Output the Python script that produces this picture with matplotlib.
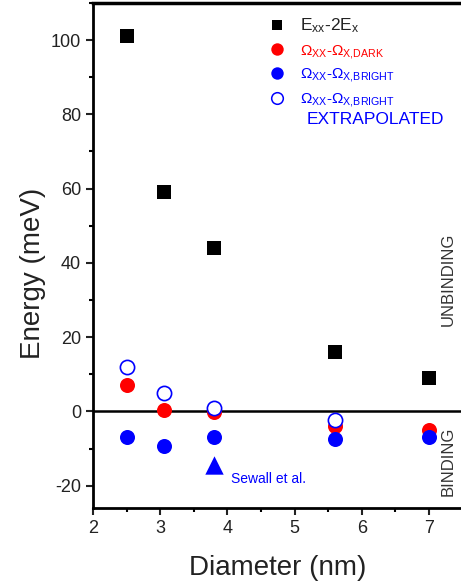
import numpy as np
import matplotlib
matplotlib.use("Agg")
import matplotlib.pyplot as plt
from matplotlib.ticker import MultipleLocator

plt.rcParams['font.family'] = ['Liberation Sans', 'DejaVu Sans']
plt.rcParams['mathtext.fontset'] = 'custom'
plt.rcParams['mathtext.rm'] = 'Liberation Sans'
plt.rcParams['mathtext.it'] = 'Liberation Sans:italic'
plt.rcParams['axes.unicode_minus'] = False

# Data
diam = [2.5, 3.05, 3.8, 5.6, 7.0]
exx_2ex = [101, 59, 44, 16, 9]
omega_dark = [7, 0.4, -0.2, -3.8, -5]
omega_bright = [-7, -9.4, -7, -7.3, -7]
diam_extrap = [2.5, 3.05, 3.8, 5.6]
omega_bright_extrap = [12, 5, 1, -2.4]
sewall_d = [3.8]
sewall_e = [-14.5]

fig = plt.figure(figsize=(4.61, 5.86), dpi=100)
ax = fig.add_axes([0.2017, 0.133, 0.8017, 0.862])

ax.axhline(0, color='black', lw=1.8, zorder=1)

ax.scatter(diam, exx_2ex, marker='s', s=100, color='black', linewidths=0, zorder=3)
ax.scatter(diam, omega_dark, marker='o', s=117, color='red', linewidths=0, zorder=3)
ax.scatter(diam, omega_bright, marker='o', s=117, color='blue', linewidths=0, zorder=4)
ax.scatter(diam_extrap, omega_bright_extrap, marker='o', s=105,
           facecolor='white', edgecolor='blue', linewidth=1.2, zorder=5)
ax.scatter(sewall_d, sewall_e, marker='^', s=175, color='blue', linewidths=0, zorder=3)
ax.text(4.05, -18.1, 'Sewall et al.', color='blue', fontsize=10, va='center')

ax.set_xlim(2, 7.5)
ax.set_ylim(-26, 110)
ax.xaxis.set_major_locator(MultipleLocator(1))
ax.xaxis.set_minor_locator(MultipleLocator(0.5))
ax.yaxis.set_major_locator(MultipleLocator(20))
ax.yaxis.set_minor_locator(MultipleLocator(10))
ax.tick_params(which='major', direction='out', length=5, width=1.5,
               labelsize=13, colors='#222222')
ax.tick_params(which='minor', direction='out', length=3, width=1.5)
for s in ax.spines.values():
    s.set_linewidth(2)
ax.spines['top'].set_linewidth(2.5)

ax.set_xlabel('Diameter (nm)', fontsize=20, color='#222222', labelpad=13)
ax.set_ylabel('Energy (meV)', fontsize=20, color='#222222', labelpad=4)
ax.yaxis.set_label_coords(-0.128, 0.465)

# side labels
ax.text(7.28, 35.6, 'UNBINDING', rotation=90, fontsize=12, color='#333333',
        ha='center', va='center')
ax.text(7.28, -13.3, 'BINDING', rotation=90, fontsize=12, color='#333333',
        ha='center', va='center')

# hand-made legend
lx_m, lx_t = 4.74, 5.08
ax.scatter([lx_m], [104], marker='s', s=55, color='black', linewidths=0, zorder=6)
ax.text(lx_t, 104, r'E$_{\mathrm{xx}}$-2E$_{\mathrm{x}}$', fontsize=12.5,
        color='#222222', va='center')
ax.scatter([lx_m], [97.5], marker='o', s=80, color='red', linewidths=0, zorder=6)
ax.text(lx_t, 96.8, r'Ω$_{\mathrm{XX}}$-Ω$_{\mathrm{X{,}DARK}}$', fontsize=11,
        color='red', va='center')
ax.scatter([lx_m], [91.2], marker='o', s=80, color='blue', linewidths=0, zorder=6)
ax.text(lx_t, 90.5, r'Ω$_{\mathrm{XX}}$-Ω$_{\mathrm{X{,}BRIGHT}}$', fontsize=11,
        color='blue', va='center')
ax.scatter([lx_m], [84.5], marker='o', s=70, facecolor='white',
           edgecolor='blue', linewidth=1.1, zorder=6)
ax.text(lx_t, 83.8, r'Ω$_{\mathrm{XX}}$-Ω$_{\mathrm{X{,}BRIGHT}}$', fontsize=11,
        color='blue', va='center')
ax.text(5.18, 78.5, 'EXTRAPOLATED', fontsize=12.5, color='blue', va='center')

fig.savefig('out.png', dpi=100)
